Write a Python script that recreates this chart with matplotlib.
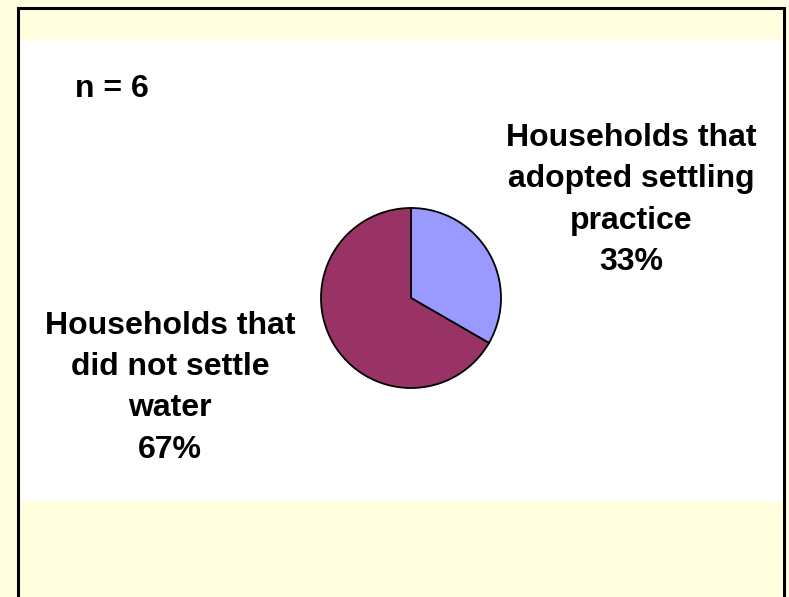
import matplotlib.pyplot as plt
from matplotlib.patches import Rectangle

# data
labels = ["Households that\nadopted settling\npractice", "Households that\ndid not settle\nwater"]
counts = [2, 4]
colors = ["#9999FF", "#993366"]
n_total = sum(counts)

W, H = 789, 597
BG_YELLOW = "#FFFFE0"

fig = plt.figure(figsize=(W / 100, H / 100), dpi=100)
fig.patch.set_facecolor(BG_YELLOW)
ax = fig.add_axes([0, 0, 1, 1])
ax.set_xlim(0, W)
ax.set_ylim(0, H)
ax.set_aspect("equal")
ax.axis("off")

# white plot band and black chart border (y measured from top, flipped)
ax.add_patch(Rectangle((19, H - 501), 764, 461, facecolor="white", edgecolor="none", zorder=0))
ax.plot([18, 18, 784, 784], [-5, H - 8, H - 8, -5], color="black", lw=2.2, zorder=5,
        solid_joinstyle="miter", clip_on=False)

# pie
ax.pie(counts, colors=colors, startangle=90, counterclock=False,
       center=(411, H - 298), radius=90,
       wedgeprops=dict(edgecolor="black", linewidth=1.3))
ax.set_xlim(0, W)
ax.set_ylim(0, H)

pcts = [round(100 * c / n_total) for c in counts]
font = dict(family="Liberation Sans", fontweight="bold", fontsize=23)

# va="baseline" lines up the last line's baseline
ax.text(631, H - 270, f"{labels[0]}\n{pcts[0]}%", ha="center", va="baseline",
        linespacing=1.5, **font)
ax.text(170, H - 458, f"{labels[1]}\n{pcts[1]}%", ha="center", va="baseline",
        linespacing=1.5, **font)
ax.text(75, H - 97, "n = %d" % n_total, ha="left", va="baseline", **font)

fig.savefig("out.png", dpi=100, facecolor=fig.get_facecolor())
